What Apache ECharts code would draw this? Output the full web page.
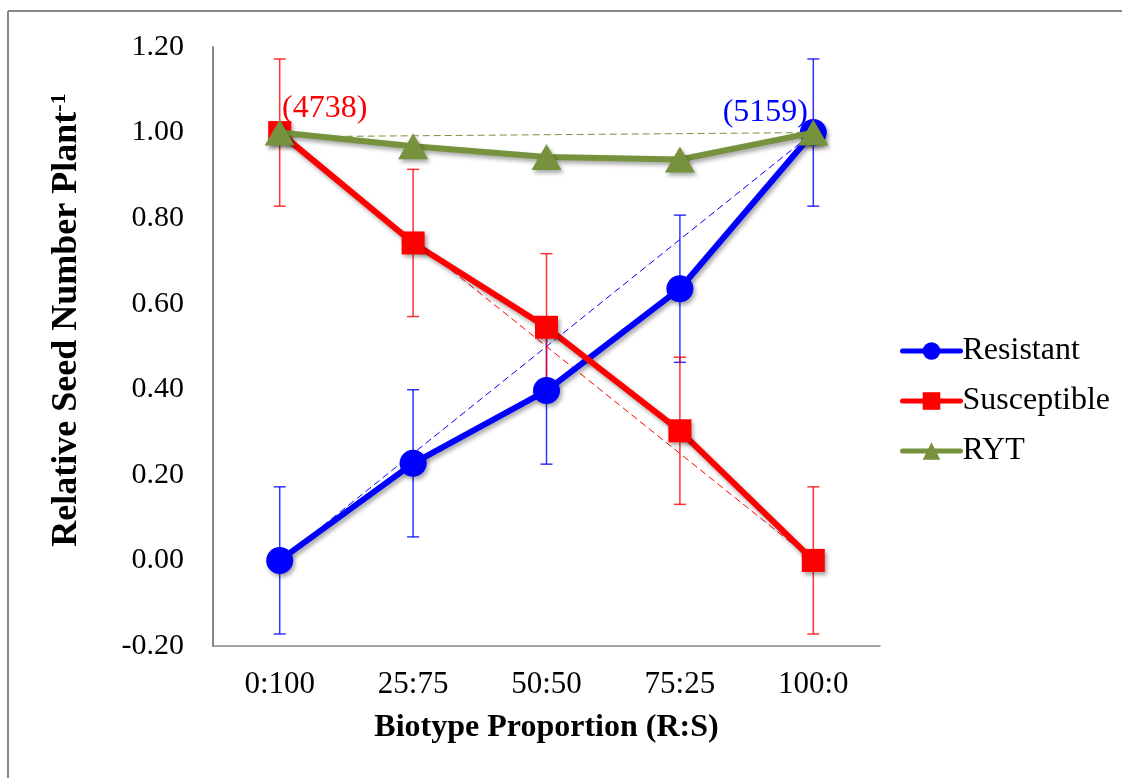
<!DOCTYPE html>
<html>
<head>
<meta charset="utf-8">
<script src="https://cdn.jsdelivr.net/npm/echarts@6/dist/echarts.min.js"></script>
<style>
  html, body { margin: 0; padding: 0; background: #fff; }
  #chart { width: 1122px; height: 778px; }
</style>
</head>
<body>
<div id="chart"></div>
<script>
// Biotype proportions (R:S) along the x axis
const categories = ['0:100', '25:75', '50:50', '75:25', '100:0'];

// Relative seed number per plant
const resistant   = [0.00, 0.227, 0.397, 0.635, 1.00];
const susceptible = [1.00, 0.742, 0.545, 0.303, 0.00];
const ryt         = [1.00, 0.968, 0.943, 0.937, 1.00];

// Error bar half-widths
const resistantErr   = [0.172, 0.172, 0.172, 0.172, 0.172];
const susceptibleErr = [0.172, 0.172, 0.172, 0.172, 0.172];

// Expected (no-interaction) reference lines, endpoint to endpoint
const resistantExpected   = [['0:100', 0.00], ['100:0', 1.00]];
const susceptibleExpected = [['0:100', 1.00], ['100:0', 0.00]];
const rytExpected         = [['0:100', 0.99], ['100:0', 1.00]];

// Absolute seed numbers of the monocultures
const susceptibleMono = 4738;
const resistantMono = 5159;

const yTicks = { min: -0.2, max: 1.2, step: 0.2 };

const FONT = '"Liberation Serif", "Times New Roman", serif';
const BLUE = '#0000FF';
const RED = '#FF0000';
const GREEN = '#76923C';

const shadow = {
  shadowBlur: 4,
  shadowColor: 'rgba(0,0,0,0.35)',
  shadowOffsetX: 2,
  shadowOffsetY: 3
};

function errorBars(name, values, errs, color) {
  return {
    name: name + ' error',
    type: 'custom',
    xAxisIndex: 0,
    z: 1,
    silent: true,
    data: values.map((v, i) => [i, v - errs[i], v + errs[i]]),
    renderItem: function (params, api) {
      const lo = api.coord([api.value(0), api.value(1)]);
      const hi = api.coord([api.value(0), api.value(2)]);
      const half = 6;
      const style = { stroke: color, lineWidth: 1.5, opacity: 0.8 };
      return {
        type: 'group',
        children: [
          { type: 'line', shape: { x1: lo[0], y1: lo[1], x2: hi[0], y2: hi[1] }, style: style },
          { type: 'line', shape: { x1: lo[0] - half, y1: lo[1], x2: lo[0] + half, y2: lo[1] }, style: style },
          { type: 'line', shape: { x1: hi[0] - half, y1: hi[1], x2: hi[0] + half, y2: hi[1] }, style: style }
        ]
      };
    }
  };
}

function dashed(name, data, color) {
  return {
    name: name,
    type: 'line',
    data: data,
    symbol: 'none',
    silent: true,
    z: 2,
    lineStyle: { color: color, width: 1, type: [7, 4] }
  };
}

const chart = echarts.init(document.getElementById('chart'), null, { renderer: 'canvas' });

chart.setOption({
  animation: false,
  backgroundColor: '#ffffff',
  grid: { left: 213, right: 242, top: 47, bottom: 132 },
  xAxis: [
    {
      type: 'category',
      data: categories,
      boundaryGap: true,
      axisLine: { show: false },
      axisTick: { show: false },
      axisLabel: { fontFamily: FONT, fontSize: 31, color: '#000', margin: 23 },
      name: 'Biotype Proportion (R:S)',
      nameLocation: 'middle',
      nameGap: 66,
      nameTextStyle: { fontFamily: FONT, fontSize: 32, fontWeight: 'bold', color: '#000' }
    },
    {
      // zero line across the plot
      type: 'category',
      data: categories,
      position: 'bottom',
      axisLine: { show: true, onZero: true, lineStyle: { color: '#888', width: 1.5 } },
      axisTick: { show: false },
      axisLabel: { show: false }
    }
  ],
  yAxis: {
    type: 'value',
    min: yTicks.min,
    max: yTicks.max,
    interval: yTicks.step,
    axisLine: { show: true, lineStyle: { color: '#888', width: 2 } },
    axisTick: { show: false },
    splitLine: { show: false },
    axisLabel: {
      fontFamily: FONT, fontSize: 30, color: '#000', margin: 29,
      formatter: v => v.toFixed(2)
    }
  },
  legend: {
    orient: 'vertical',
    left: 895,
    top: 330,
    itemWidth: 58,
    itemHeight: 22,
    itemGap: 18,
    data: ['Resistant', 'Susceptible', 'RYT'],
    lineStyle: { width: 5, cap: 'round' },
    textStyle: { fontFamily: FONT, fontSize: 32, color: '#000', padding: [0, 0, 0, -3] }
  },
  graphic: [
    { type: 'line', shape: { x1: 8, y1: 11, x2: 1122, y2: 11 }, style: { stroke: '#888', lineWidth: 2 }, z: 100 },
    { type: 'line', shape: { x1: 8, y1: 11, x2: 8, y2: 778 }, style: { stroke: '#888', lineWidth: 2 }, z: 100 },
    {
      type: 'text',
      x: 67,
      y: 320,
      rotation: Math.PI / 2,
      style: {
        text: 'Relative Seed Number Plant{sup|-1}',
        font: 'bold 36px ' + FONT,
        fill: '#000',
        align: 'center',
        verticalAlign: 'middle',
        rich: {
          sup: { fontSize: 22, fontWeight: 'bold', fontFamily: FONT, fill: '#000', padding: [0, 0, 16, 0] }
        }
      }
    }
  ],
  series: [
    errorBars('Resistant', resistant, resistantErr, BLUE),
    errorBars('Susceptible', susceptible, susceptibleErr, RED),
    dashed('Resistant expected', resistantExpected, BLUE),
    dashed('Susceptible expected', susceptibleExpected, RED),
    dashed('RYT expected', rytExpected, GREEN),
    {
      name: 'Resistant',
      type: 'line',
      z: 3,
      data: resistant.map((v, i) => i === resistant.length - 1 ? {
        value: v,
        label: {
          show: true, position: 'inside', offset: [-48, -20],
          formatter: '(' + resistantMono + ')',
          fontFamily: FONT, fontSize: 32, color: BLUE
        }
      } : v),
      symbol: 'circle',
      symbolSize: 27,
      color: BLUE,
      lineStyle: { color: BLUE, width: 6, ...shadow },
      itemStyle: { color: BLUE, ...shadow }
    },
    {
      name: 'Susceptible',
      type: 'line',
      z: 4,
      data: susceptible.map((v, i) => i === 0 ? {
        value: v,
        label: {
          show: true, position: 'inside', offset: [45, -24],
          formatter: '(' + susceptibleMono + ')',
          fontFamily: FONT, fontSize: 32, color: RED
        }
      } : v),
      symbol: 'rect',
      symbolSize: 23,
      color: RED,
      lineStyle: { color: RED, width: 6, ...shadow },
      itemStyle: { color: RED, ...shadow }
    },
    {
      name: 'RYT',
      type: 'line',
      z: 5,
      data: ryt,
      symbol: 'triangle',
      symbolSize: [30, 26],
      color: GREEN,
      lineStyle: { color: GREEN, width: 6, ...shadow },
      itemStyle: { color: GREEN, ...shadow }
    }
  ]
});
</script>
</body>
</html>
